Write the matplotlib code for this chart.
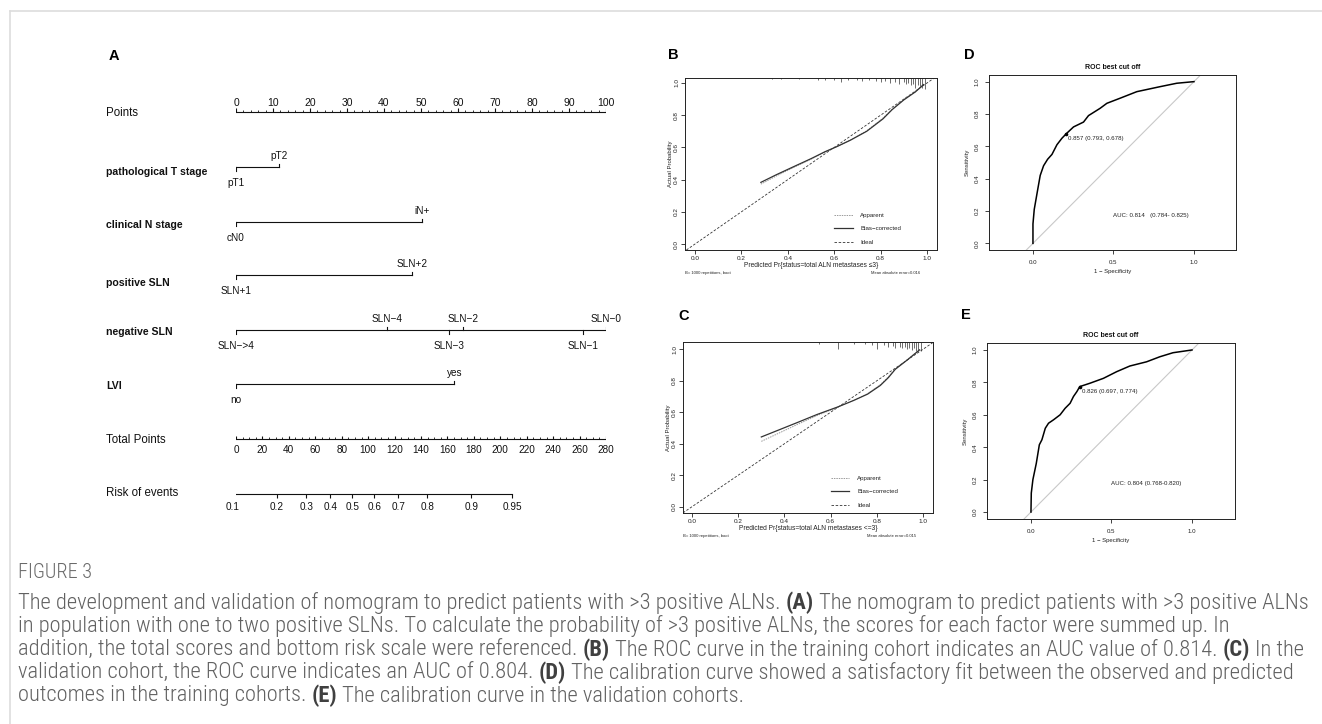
import numpy as np
import matplotlib
matplotlib.use("Agg")
import matplotlib.pyplot as plt
from matplotlib import font_manager
from matplotlib.lines import Line2D
from matplotlib.transforms import blended_transform_factory

# ---------------- data ----------------
points_ticks = list(range(0, 101, 10))
pt_levels = ["pT1", "pT2"]
pt_points = [0, 11.5]
cn_levels = ["cN0", "iN+"]
cn_points = [0, 50.3]
pos_levels = ["SLN+1", "SLN+2"]
pos_points = [0, 47.6]
neg_levels = ["SLN\u2212>4", "SLN\u22124", "SLN\u22123", "SLN\u22122", "SLN\u22121", "SLN\u22120"]
neg_points = [0, 40.9, 57.6, 61.4, 93.8, 100]
lvi_levels = ["no", "yes"]
lvi_points = [0, 59.0]
total_max = 280
total_ticks = list(range(0, 281, 20))
risk_ticks = [0.1, 0.2, 0.3, 0.4, 0.5, 0.6, 0.7, 0.8, 0.9, 0.95]
risk_labels = ["0.1", "0.2", "0.3", "0.4", "0.5", "0.6", "0.7", "0.8", "0.9", "0.95"]
lp_intercept = -2.142
lp_slope = 0.02435

# calibration, training (B)
calB_pred = [0.284, 0.35, 0.42, 0.50, 0.56, 0.61, 0.67, 0.74, 0.81, 0.85, 0.90, 0.95, 0.985]
calB_bias = [0.383, 0.43, 0.477, 0.53, 0.573, 0.604, 0.645, 0.70, 0.777, 0.835, 0.895, 0.945, 0.99]
calB_app = [0.372, 0.422, 0.472, 0.527, 0.571, 0.604, 0.646, 0.703, 0.782, 0.838, 0.897, 0.946, 0.99]
rugB_x = [0.33, 0.37, 0.45, 0.53, 0.56, 0.60, 0.63, 0.66, 0.70, 0.72, 0.75, 0.78, 0.80, 0.82,
          0.84, 0.86, 0.88, 0.90, 0.91, 0.92, 0.93, 0.94, 0.95, 0.96, 0.97, 0.98, 0.99]
rugB_h = [0.008, 0.008, 0.008, 0.01, 0.01, 0.012, 0.025, 0.012, 0.015, 0.018, 0.012, 0.02, 0.025, 0.02,
          0.03, 0.025, 0.035, 0.025, 0.04, 0.03, 0.045, 0.035, 0.06, 0.045, 0.05, 0.065, 0.07]
maeB = "0.016"

# calibration, validation (C)
calC_pred = [0.30, 0.38, 0.46, 0.54, 0.63, 0.70, 0.76, 0.815, 0.85, 0.88, 0.93, 0.985]
calC_bias = [0.443, 0.49, 0.537, 0.585, 0.633, 0.675, 0.715, 0.77, 0.82, 0.873, 0.93, 0.996]
calC_app = [0.415, 0.47, 0.525, 0.578, 0.632, 0.676, 0.718, 0.775, 0.825, 0.876, 0.932, 0.996]
rugC_x = [0.55, 0.63, 0.70, 0.75, 0.78, 0.80, 0.83, 0.85, 0.87, 0.88, 0.90, 0.91,
          0.92, 0.93, 0.94, 0.95, 0.96, 0.97, 0.98, 0.99]
rugC_h = [0.01, 0.045, 0.01, 0.015, 0.02, 0.045, 0.02, 0.03, 0.025, 0.035, 0.03, 0.04,
          0.03, 0.045, 0.035, 0.05, 0.04, 0.055, 0.06, 0.06]
maeC = "0.015"

# ROC training (D)
rocD_fpr = [0, 0, 0.008, 0.029, 0.045, 0.066, 0.091, 0.118, 0.149, 0.18, 0.207, 0.252, 0.314,
            0.345, 0.417, 0.459, 0.54, 0.645, 0.79, 0.893, 1.0]
rocD_tpr = [0, 0.12, 0.21, 0.33, 0.42, 0.48, 0.52, 0.55, 0.61, 0.65, 0.678, 0.72, 0.75,
            0.79, 0.835, 0.866, 0.897, 0.938, 0.969, 0.99, 1.0]
bestD = (0.207, 0.678)
bestD_label = "0.857 (0.793, 0.678)"
aucD_label = "AUC: 0.814   (0.784- 0.825)"

# ROC validation (E)
rocE_fpr = [0, 0.002, 0.012, 0.033, 0.052, 0.068, 0.089, 0.109, 0.14, 0.181, 0.212, 0.243,
            0.264, 0.285, 0.303, 0.367, 0.45, 0.532, 0.614, 0.718, 0.8, 0.882, 1.0]
rocE_tpr = [0, 0.117, 0.2, 0.30, 0.415, 0.446, 0.517, 0.548, 0.569, 0.60, 0.64, 0.671,
            0.713, 0.743, 0.774, 0.795, 0.825, 0.866, 0.901, 0.927, 0.958, 0.983, 1.0]
bestE = (0.303, 0.774)
bestE_label = "0.826 (0.697, 0.774)"
aucE_label = "AUC: 0.804 (0.768-0.820)"

caption_title = "FIGURE 3"
caption_lines = [
    [("The development and validation of nomogram to predict patients with >3 positive ALNs.", False),
     ("(A)", True), ("The nomogram to predict patients with >3 positive ALNs", False)],
    [("in population with one to two positive SLNs. To calculate the probability of >3 positive ALNs, "
      "the scores for each factor were summed up. In", False)],
    [("addition, the total scores and bottom risk scale were referenced.", False), ("(B)", True),
     ("The ROC curve in the training cohort indicates an AUC value of 0.814.", False), ("(C)", True),
     ("In the", False)],
    [("validation cohort, the ROC curve indicates an AUC of 0.804.", False), ("(D)", True),
     ("The calibration curve showed a satisfactory fit between the observed and predicted", False)],
    [("outcomes in the training cohorts.", False), ("(E)", True),
     ("The calibration curve in the validation cohorts.", False)],
]

# ---------------- figure ----------------
W, H = 1322, 724
SANS = ["Liberation Sans", "DejaVu Sans"]
plt.rcParams["font.family"] = SANS
fig = plt.figure(figsize=(W / 100, H / 100), dpi=100)
fig.patch.set_facecolor("white")


def fbox(l, t, r, b):
    return [l / W, 1 - b / H, (r - l) / W, (b - t) / H]


def ftext(x, y, s, **kw):
    return fig.text(x / W, 1 - y / H, s, **kw)


# frame lines
fig.add_artist(Line2D([10 / W, 1], [1 - 11 / H, 1 - 11 / H], color="#dddddd", lw=1.2))
fig.add_artist(Line2D([10 / W, 10 / W], [0, 1 - 11 / H], color="#dddddd", lw=1.2))

# panel letters
for s, x, y in [("A", 114, 56), ("B", 673, 55), ("C", 684, 316), ("D", 969, 55), ("E", 966, 315)]:
    ftext(x, y, s, fontsize=10.5, fontweight="bold", ha="center", va="center", color="black")

# ---------------- nomogram (A) ----------------
axn = fig.add_axes(fbox(236, 80, 606, 520))
axn.set_xlim(0, 100)
axn.set_ylim(520, 80)
axn.axis("off")
lab_tr = blended_transform_factory(fig.transFigure, axn.transData)
LW = 0.8
K = "#111111"

# Points axis
yP = 112
axn.plot([0, 100], [yP, yP], color=K, lw=LW)
axn.vlines(np.arange(0, 101, 2), yP - 2, yP, color=K, lw=0.6)
axn.vlines(points_ticks, yP - 4, yP, color=K, lw=LW)
for v in points_ticks:
    axn.text(v, yP - 6.5, str(v), ha="center", va="baseline", fontsize=7.5, color=K)
axn.text(106 / W, yP + 1, "Points", transform=lab_tr, ha="left", va="center", fontsize=8.3, color=K)

rows = [("pathological T stage", pt_levels, pt_points, 167, 172),
        ("clinical N stage", cn_levels, cn_points, 222, 225),
        ("positive SLN", pos_levels, pos_points, 275, 283),
        ("negative SLN", neg_levels, neg_points, 330, 332),
        ("LVI", lvi_levels, lvi_points, 384, 386)]
for name, levels, pts, y, ly in rows:
    axn.plot([min(pts), max(pts)], [y, y], color=K, lw=LW)
    order = np.argsort(pts)
    for k, i in enumerate(order):
        if k % 2 == 1:
            axn.plot([pts[i], pts[i]], [y - 3.5, y], color=K, lw=LW)
            axn.text(pts[i], y - 8.3, levels[i], ha="center", va="baseline", fontsize=7.2, color=K)
        else:
            axn.plot([pts[i], pts[i]], [y, y + 3.5], color=K, lw=LW)
            axn.text(pts[i], y + 11, levels[i], ha="center", va="top", fontsize=7.2, color=K)
    axn.text(106 / W, ly, name, transform=lab_tr, ha="left", va="center", fontsize=7.6,
             fontweight="bold", color=K)

# Total points
yT = 439
def tot2pts(t):
    return np.asarray(t, dtype=float) * 100.0 / total_max
axn.plot([0, 100], [yT, yT], color=K, lw=LW)
axn.vlines(tot2pts(np.arange(0, 281, 5)), yT - 2, yT, color=K, lw=0.6)
axn.vlines(tot2pts(total_ticks), yT - 3.5, yT, color=K, lw=LW)
for v in total_ticks:
    axn.text(float(tot2pts(v)), yT + 6, str(v), ha="center", va="top", fontsize=7.2, color=K)
axn.text(106 / W, yT + 1, "Total Points", transform=lab_tr, ha="left", va="center", fontsize=8.3, color=K)

# Risk
yR = 494
risk = np.array(risk_ticks)
risk_tot = (np.log(risk / (1 - risk)) - lp_intercept) / lp_slope
risk_x = tot2pts(risk_tot)
axn.plot([risk_x.min(), risk_x.max()], [yR, yR], color=K, lw=LW)
axn.vlines(risk_x, yR, yR + 4, color=K, lw=LW)
for xv, lab in zip(risk_x, risk_labels):
    axn.text(xv, yR + 8, lab, ha="center", va="top", fontsize=7.2, color=K)
axn.text(106 / W, yR - 1, "Risk of events", transform=lab_tr, ha="left", va="center", fontsize=8.3, color=K)


# ---------------- helpers for R-like panels ----------------
def r_axes(ax, xlim, ylim, xticks, yticks, xfmt, fs, pad):
    ax.set_xlim(*xlim)
    ax.set_ylim(*ylim)
    ax.set_xticks(xticks)
    ax.set_yticks(yticks)
    ax.set_xticklabels([xfmt.format(v) for v in xticks])
    ax.set_yticklabels(["{:.1f}".format(v) for v in yticks], rotation=90, va="center")
    ax.tick_params(direction="out", length=3, width=0.6, labelsize=fs, colors="#222222", pad=pad)
    for s in ax.spines.values():
        s.set_linewidth(0.7)
        s.set_color("#222222")


def calib_panel(box, xlim, ylim, pred, app, bias, rugx, rugh, xlab, mae, note_y, note_r):
    ax = fig.add_axes(fbox(*box))
    r_axes(ax, xlim, ylim, [0, 0.2, 0.4, 0.6, 0.8, 1.0], [0, 0.2, 0.4, 0.6, 0.8, 1.0], "{:.1f}", 4.6, 1.2)
    ax.axline((0, 0), (1, 1), color="#333333", lw=0.6, ls=(0, (3, 2)), label="Ideal", zorder=1)
    ax.plot(pred, app, color="#9a9a9a", lw=0.7, ls=(0, (1.5, 1)), label="Apparent", zorder=2)
    ax.plot(pred, bias, color="#333333", lw=0.9, label="Bias\u2212corrected", zorder=3)
    top = ylim[1]
    ax.vlines(rugx, top - np.array(rugh), top, color="#333333", lw=0.5)
    h = ax.get_legend_handles_labels()
    order = [1, 2, 0]
    ax.legend([h[0][i] for i in order], [h[1][i] for i in order], loc="lower left",
              bbox_to_anchor=(0.575, 0.005), frameon=False, fontsize=4.4, handlelength=3.0,
              handletextpad=1.3, labelspacing=1.35, borderpad=0.2, labelcolor="#222222")
    ax.set_xlabel(xlab, fontsize=4.8, labelpad=0.5, color="#222222")
    ax.set_ylabel("Actual Probability", fontsize=4.3, labelpad=1, color="#222222")
    ftext(box[0], note_y, "B= 1000 repetitions, boot", fontsize=3.0, ha="left", va="center", color="#222222")
    ftext(note_r, note_y, "Mean absolute error=" + mae, fontsize=3.0, ha="right", va="center", color="#222222")
    return ax


calib_panel((685, 78, 937, 250), (-0.043, 1.043), (-0.037, 1.031), calB_pred, calB_app, calB_bias,
            rugB_x, rugB_h, "Predicted Pr{status=total ALN metastases \u22643}", maeB, 273, 920)
calib_panel((683, 342, 933, 513), (-0.039, 1.043), (-0.04, 1.046), calC_pred, calC_app, calC_bias,
            rugC_x, rugC_h, "Predicted Pr{status=total ALN metastases <=3}", maeC, 536, 916)


def roc_panel(box, xlim, ylim, fpr, tpr, best, best_lab, auc_lab):
    ax = fig.add_axes(fbox(*box))
    r_axes(ax, xlim, ylim, [0, 0.5, 1.0], [0, 0.2, 0.4, 0.6, 0.8, 1.0], "{:.1f}", 4.4, 4)
    ax.axline((0, 0), (1, 1), color="#c8c8c8", lw=0.8, zorder=1)
    ax.plot(fpr, tpr, color="black", lw=1.1, zorder=3)
    ax.plot([best[0]], [best[1]], "o", color="black", ms=1.6, zorder=4)
    ax.text(best[0] + 0.012, best[1] - 0.03, best_lab, fontsize=4.4, ha="left", va="center", color="#222222")
    ax.text(0.5, 0.175, auc_lab, fontsize=4.4, ha="left", va="center", color="#222222")
    ax.set_title("ROC best cut off", fontsize=5.0, fontweight="bold", pad=4, color="#111111")
    ax.set_xlabel("1 \u2212 Specificity", fontsize=4.3, labelpad=3, color="#222222")
    ax.set_ylabel("Sensitivity", fontsize=4.3, labelpad=3, color="#222222")
    return ax


roc_panel((989, 75, 1236, 250), (-0.273, 1.261), (-0.041, 1.041), rocD_fpr, rocD_tpr, bestD, bestD_label, aucD_label)
roc_panel((987, 343, 1235, 519), (-0.273, 1.267), (-0.043, 1.043), rocE_fpr, rocE_tpr, bestE, bestE_label, aucE_label)

# ---------------- caption ----------------
avail = {f.name for f in font_manager.fontManager.ttflist}
cap_family = "Liberation Sans"
for cand in ["Roboto Condensed", "Liberation Sans Narrow", "Open Sans Condensed", "Liberation Sans"]:
    if cand in avail:
        cap_family = cand
        break
CAP_W = "light"
renderer = fig.canvas.get_renderer()
CAP_COLOR = "#616161"
BOLD_COLOR = "#404040"


def seg_width(s, size, bold):
    t = ftext(0, 0, s, fontsize=size, family=cap_family, fontweight="bold" if bold else CAP_W)
    w = t.get_window_extent(renderer).width
    t.remove()
    return w


def line_width(segs, size):
    sp = seg_width("x x", size, False) - seg_width("xx", size, False)
    return sum(seg_width(s, size, b) for s, b in segs) + sp * (len(segs) - 1)


# fit the first line to its width in the reference
target = 1305 - 18
size = 11.0
w0 = line_width(caption_lines[0], size)
size = size * target / w0

ftext(18, 573, caption_title, fontsize=size * 0.9, family=cap_family, fontweight=CAP_W,
      color="#6a6a6a", ha="left", va="center")
line_y = [603, 626, 650, 673, 696]
space = seg_width("x x", size, False) - seg_width("xx", size, False)
for segs, y in zip(caption_lines, line_y):
    x = 18
    for s, b in segs:
        t = ftext(x, y, s, fontsize=size, family=cap_family, fontweight="bold" if b else CAP_W,
                  color=BOLD_COLOR if b else CAP_COLOR, ha="left", va="center")
        x += t.get_window_extent(renderer).width + space

fig.savefig("out.png", dpi=100, facecolor="white")
